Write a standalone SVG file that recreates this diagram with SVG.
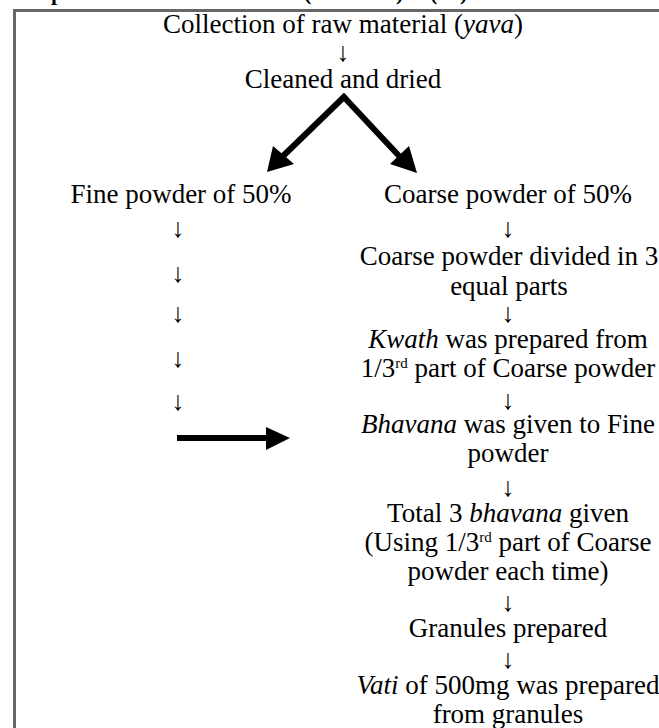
<svg xmlns="http://www.w3.org/2000/svg" width="659" height="728" viewBox="0 0 659 728" font-family="'Liberation Serif', 'Times New Roman', Times, serif">
<style>
text{font-family:'Liberation Serif','Times New Roman',Times,serif;font-size:27px;fill:#000;text-anchor:middle}
.t{font-weight:bold;font-size:22px;text-anchor:start}
.i{font-style:italic}
.sup{font-size:15px}
.ar{font-size:27px}
.frame{stroke:#666;stroke-width:3;fill:none}
.thick{stroke:#000;stroke-width:6;fill:none}
.head{fill:#000}
</style>
<rect width="659" height="728" fill="#fff"/>
<g id="title">
<text class="t" x="51" y="0">p</text>
<text class="t" x="304" y="0">(</text>
<text class="t" x="396" y="0">)</text>
<text class="t" x="430" y="0">(</text>
<text class="t" x="460" y="0">)</text>
</g>
<path class="frame" d="M659 10.5H14.5V728"/>
<g id="connectors">
<line class="thick" x1="346" y1="95" x2="281" y2="158"/>
<polygon class="head" points="267,172 273,146 294,164"/>
<line class="thick" x1="342" y1="95" x2="401" y2="158"/>
<polygon class="head" points="417,173 390,164 409,146"/>
<line class="thick" x1="177" y1="438" x2="270" y2="438" stroke-width="5"/>
<polygon class="head" points="266,427 290,438 266,450"/>
</g>
<g id="n-collection"><text x="343" y="33">Collection of raw material (<tspan class="i">yava</tspan>)</text></g>
<text class="ar" x="343" y="61">↓</text>
<g id="n-cleaned"><text x="343" y="88">Cleaned and dried</text></g>
<g id="n-fine"><text x="181" y="203">Fine powder of 50%</text>
<text class="ar" x="178" y="237">↓</text>
<text class="ar" x="178" y="282">↓</text>
<text class="ar" x="178" y="322">↓</text>
<text class="ar" x="178" y="367">↓</text>
<text class="ar" x="178" y="410">↓</text>
</g>
<g id="n-coarse"><text x="508" y="203">Coarse powder of 50%</text></g>
<text class="ar" x="508" y="237">↓</text>
<g id="n-divided"><text x="509" y="265">Coarse powder divided in 3</text><text x="509" y="295">equal parts</text></g>
<text class="ar" x="508" y="322">↓</text>
<g id="n-kwath"><text x="508" y="348"><tspan class="i">Kwath</tspan> was prepared from</text><text x="508" y="377">1/3<tspan class="sup" dy="-9">rd</tspan><tspan dy="9"> part of Coarse powder</tspan></text></g>
<text class="ar" x="508" y="409">↓</text>
<g id="n-bhavana"><text x="508" y="433"><tspan class="i">Bhavana</tspan> was given to Fine</text><text x="508" y="462">powder</text></g>
<text class="ar" x="508" y="496">↓</text>
<g id="n-total"><text x="508" y="522">Total 3 <tspan class="i">bhavana</tspan> given</text><text x="508" y="551">(Using 1/3<tspan class="sup" dy="-9">rd</tspan><tspan dy="9"> part of Coarse</tspan></text><text x="508" y="580">powder each time)</text></g>
<text class="ar" x="508" y="611">↓</text>
<g id="n-granules"><text x="508" y="637">Granules prepared</text></g>
<text class="ar" x="508" y="668">↓</text>
<g id="n-vati"><text x="508" y="694"><tspan class="i">Vati</tspan> of 500mg was prepared</text><text x="508" y="723">from granules</text></g>
</svg>
